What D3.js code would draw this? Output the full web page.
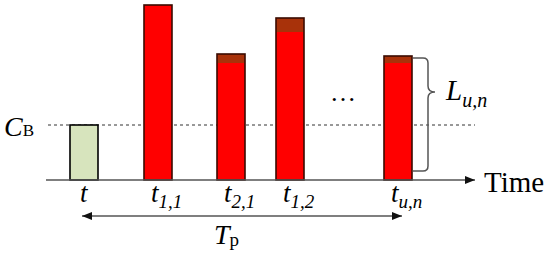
<!DOCTYPE html>
<html>
<head>
<meta charset="utf-8">
<script src="https://cdn.jsdelivr.net/npm/d3@7"></script>
<style>
  body { margin: 0; background: #fff; }
  text { font-family: "Liberation Serif", "Times New Roman", serif; fill: #000; }
</style>
</head>
<body>
<script>
var width = 550, height = 262;

// schematic data
var cb = 55;                                   // capacity threshold C_B
var times = [84, 158, 231, 290, 398];          // arrival instants
var labels = [["t", ""], ["t", "1,1"], ["t", "2,1"], ["t", "1,2"], ["t", "u,n"]];
var loads = [55, 175, 126, 162, 124];          // bar heights
var caps = [0, 0, 9, 14, 7];                   // dark top band
var kinds = ["own", "req", "req", "req", "req"];

var x = d3.scaleLinear().domain([0, 550]).range([0, 550]),
    y = d3.scaleLinear().domain([0, 175]).range([180, 5]);

var barW = 28;

var svg = d3.select("body").append("svg")
  .attr("width", width)
  .attr("height", height);

var defs = svg.append("defs");
defs.append("marker")
  .attr("id", "arr")
  .attr("viewBox", "0 0 10 8")
  .attr("refX", 10).attr("refY", 4)
  .attr("markerWidth", 10).attr("markerHeight", 8)
  .attr("markerUnits", "userSpaceOnUse")
  .attr("orient", "auto-start-reverse")
  .append("path")
  .attr("d", "M0,0L10,4L0,8Z")
  .attr("fill", "#111");

// dashed threshold
svg.append("line")
  .attr("x1", 48).attr("x2", 475)
  .attr("y1", y(cb)).attr("y2", y(cb))
  .attr("stroke", "#333")
  .attr("stroke-width", 1)
  .attr("stroke-dasharray", "3,3");

// bars
var bars = svg.selectAll(".bar")
  .data(times)
  .enter()
  .append("g")
  .attr("class", "bar");

bars.append("rect")
  .attr("x", function(d) { return x(d) - barW / 2; })
  .attr("y", function(d, i) { return y(loads[i]); })
  .attr("width", barW)
  .attr("height", function(d, i) { return y(0) - y(loads[i]); })
  .attr("fill", function(d, i) { return kinds[i] == "own" ? "#d7e4bd" : "#ff0000"; });

bars.filter(function(d, i) { return caps[i] > 0; })
  .append("rect")
  .attr("x", function(d) { return x(d) - barW / 2; })
  .attr("y", function(d) { var i = times.indexOf(d); return y(loads[i]); })
  .attr("width", barW)
  .attr("height", function(d) { var i = times.indexOf(d); return caps[i]; })
  .attr("fill", "#a8320a");

bars.append("rect")
  .attr("x", function(d) { return x(d) - barW / 2; })
  .attr("y", function(d, i) { return y(loads[i]); })
  .attr("width", barW)
  .attr("height", function(d, i) { return y(0) - y(loads[i]); })
  .attr("fill", "none")
  .attr("stroke", function(d, i) { return kinds[i] == "own" ? "#000" : "#3a0a00"; })
  .attr("stroke-width", 1.6);

// time axis
svg.append("line")
  .attr("x1", 46).attr("x2", 475)
  .attr("y1", y(0)).attr("y2", y(0))
  .attr("stroke", "#555")
  .attr("stroke-width", 1.5)
  .attr("marker-end", "url(#arr)");

svg.append("text")
  .attr("x", 484).attr("y", 192)
  .style("font-size", "29px")
  .text("Time");

// tick labels
var lab = svg.selectAll(".lab")
  .data(labels)
  .enter()
  .append("text")
  .attr("class", "lab")
  .attr("x", function(d, i) { return x(times[i]) - (d[1] ? 7 : 4); })
  .attr("y", 202)
  .style("font-style", "italic")
  .style("font-size", "27px");
lab.append("tspan").text(function(d) { return d[0]; });
lab.append("tspan")
  .attr("dy", 6)
  .style("font-size", "19px")
  .text(function(d) { return d[1]; });

// C_B label
var cbl = svg.append("text").attr("x", 4).attr("y", 136);
cbl.append("tspan").style("font-style", "italic").style("font-size", "28px").text("C");
cbl.append("tspan").style("font-size", "17px").text("B");

// ellipsis
svg.append("text")
  .attr("x", 330).attr("y", 101)
  .style("font-size", "26px")
  .text("\u2026");

// brace for L_u,n
var bTop = y(loads[4]) + 2, bBot = y(0) - 9, bMid = 92, bx = 428;
svg.append("path")
  .attr("d", "M413," + bTop + "L" + (bx - 5) + "," + bTop +
    "Q" + bx + "," + bTop + " " + bx + "," + (bTop + 5) +
    "L" + bx + "," + (bMid - 6) +
    "Q" + bx + "," + bMid + " " + (bx + 7) + "," + bMid +
    "Q" + bx + "," + bMid + " " + bx + "," + (bMid + 6) +
    "L" + bx + "," + (bBot - 5) +
    "Q" + bx + "," + bBot + " " + (bx - 5) + "," + bBot +
    "L413," + bBot)
  .attr("fill", "none")
  .attr("stroke", "#555")
  .attr("stroke-width", 1.5);

var ll = svg.append("text").attr("x", 446).attr("y", 100).style("font-style", "italic");
ll.append("tspan").style("font-size", "29px").text("L");
ll.append("tspan").attr("dy", 7).style("font-size", "20px").text("u,n");

// period arrow T_p
svg.append("line")
  .attr("x1", x(times[0]) - 2).attr("x2", x(times[4]) + 4)
  .attr("y1", 216).attr("y2", 216)
  .attr("stroke", "#555")
  .attr("stroke-width", 1.5)
  .attr("marker-start", "url(#arr)")
  .attr("marker-end", "url(#arr)");

var tp = svg.append("text").attr("x", 214).attr("y", 244);
tp.append("tspan").style("font-style", "italic").style("font-size", "28px").text("T");
tp.append("tspan").attr("dy", 2).style("font-size", "19px").text("p");
</script>
</body>
</html>
